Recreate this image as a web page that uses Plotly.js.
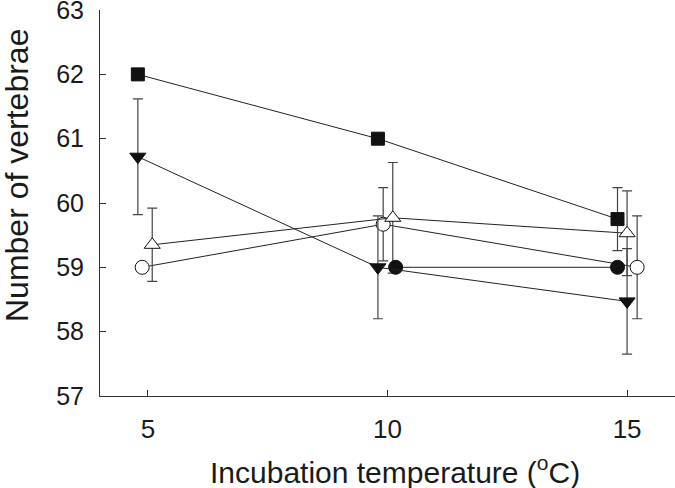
<!DOCTYPE html>
<html>
<head>
<meta charset="utf-8">
<script src="https://cdn.plot.ly/plotly-3.0.1.min.js"></script>
<style>html,body{margin:0;padding:0;background:#fff;}#chart{width:675px;height:488px;}</style>
</head>
<body>
<div id="chart"></div>
<script>
// Data (x positions carry the small horizontal offsets used in the original)
const xTicks = [5, 10, 15];
const xTickLabels = ["5", "10", "15"];
const yTicks = [57, 58, 59, 60, 61, 62, 63];
const yTickLabels = ["57", "58", "59", "60", "61", "62", "63"];
const xTitle = 'Incubation temperature (<sup>o</sup>C)';
const yTitle = 'Number of vertebrae';

const squareX = [4.79, 9.80, 14.80];
const squareY = [62.0, 61.0, 59.75];
const squareErr = [0, 0, 0.49];

const downTriX = [4.79, 9.80, 15.0];
const downTriY = [60.72, 59.0, 58.47];
const downTriErr = [0.9, 0.8, 0.82];

const openTriX = [5.09, 10.11, 15.0];
const openTriY = [59.35, 59.77, 59.53];
const openTriErr = [0.57, 0.86, 0.66];

const openCircX = [4.88, 9.91, 15.21];
const openCircY = [59.0, 59.67, 59.0];
const openCircErr = [0, 0.57, 0.8];

const filledCircX = [10.17, 14.80];
const filledCircY = [59.0, 59.0];
const filledCircErr = [0, 0];

function series(x, y, err, symbol, fill, size) {
  return {
    type: 'scatter', mode: 'lines+markers', x: x, y: y,
    line: {color: '#222', width: 1},
    marker: {symbol: symbol, size: size, color: fill, line: {color: '#111', width: 1}},
    error_y: {type: 'data', array: err, visible: true, color: '#444', thickness: 1.2, width: 5},
    showlegend: false, hoverinfo: 'skip'
  };
}

const traces = [
  series(openCircX, openCircY, openCircErr, 'circle', '#fff', 14),
  series(openTriX, openTriY, openTriErr, 'triangle-up', '#fff', 14),
  series(filledCircX, filledCircY, filledCircErr, 'circle', '#111', 14),
  series(downTriX, downTriY, downTriErr, 'triangle-down', '#111', 14),
  series(squareX, squareY, squareErr, 'square', '#111', 13)
];

const fam = 'Liberation Sans, Arial, sans-serif';
const txt = '#1a1a1a';

const layout = {
  width: 675, height: 488,
  margin: {l: 100, r: 0, t: 10, b: 92},
  paper_bgcolor: '#fff', plot_bgcolor: '#fff',
  font: {family: fam, color: txt},
  xaxis: {
    range: [4, 16], tickvals: xTicks, ticktext: xTickLabels,
    ticks: 'inside', ticklen: 6, tickcolor: '#333', tickwidth: 1,
    showline: true, linecolor: '#333', linewidth: 1, mirror: false,
    showgrid: false, zeroline: false,
    tickfont: {family: fam, size: 26, color: txt},
    ticklabelstandoff: 10, ticklabeloverflow: 'allow'
  },
  yaxis: {
    range: [56.999, 63.001], tickvals: yTicks, ticktext: yTickLabels,
    ticks: 'inside', ticklen: 6, tickcolor: '#333', tickwidth: 1,
    showline: true, linecolor: '#333', linewidth: 1, mirror: false,
    showgrid: false, zeroline: false,
    tickfont: {family: fam, size: 25, color: txt},
    ticklabelstandoff: 10, ticklabeloverflow: 'allow'
  },
  annotations: [
    {text: xTitle, xref: 'paper', yref: 'paper', x: 0, y: 0, xanchor: 'center', yanchor: 'middle',
     xshift: 295, yshift: -74, showarrow: false, font: {family: fam, size: 30, color: txt}},
    {text: yTitle, xref: 'paper', yref: 'paper', x: 0, y: 1, xanchor: 'center', yanchor: 'middle',
     xshift: -83, yshift: -166, textangle: -90, showarrow: false, font: {family: fam, size: 32, color: txt}}
  ]
};

Plotly.newPlot('chart', traces, layout, {staticPlot: true, displayModeBar: false});
</script>
</body>
</html>
